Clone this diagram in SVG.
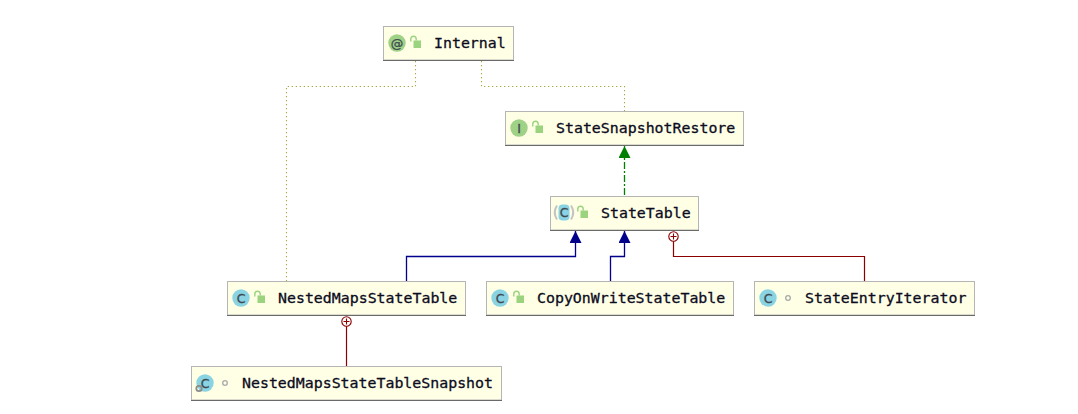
<svg xmlns="http://www.w3.org/2000/svg" width="1078" height="414" viewBox="0 0 1078 414">
<style>
.box{fill:#ffffe6;stroke:#b5b5b5;stroke-width:1}
.base{stroke:#6a6a6a;stroke-width:1.2;fill:none}
.t{font-family:"DejaVu Sans Mono",monospace;font-size:14.9px;fill:#0c0c1e;stroke:#0c0c1e;stroke-width:.3}
.ic{font-family:"DejaVu Sans",sans-serif;font-size:12.500px;text-anchor:middle;fill:#3e4a50;stroke:#3e4a50;stroke-width:.3}
.cc{fill:#8ad3e3}.ci{fill:#9fd186}
.lk{fill:#9bd37f}.lks{fill:none;stroke:#9bd37f;stroke-width:1.400}
.dot{fill:none;stroke:#a8a83c;stroke-width:1.100;stroke-dasharray:1.300 2.700}
.blue{fill:none;stroke:#00008b;stroke-width:1.300}
.red{fill:none;stroke:#8b0000;stroke-width:1.200}
.green{fill:none;stroke:#008000;stroke-width:1.300;stroke-dasharray:7 2 2 2}
.pv{fill:none;stroke:#c4c4c4;stroke-width:2}
</style>
<defs>
<marker id="ab" markerUnits="userSpaceOnUse" markerWidth="12" markerHeight="12" refX="12" refY="6" orient="auto"><path d="M0 0L12 6L0 12z" fill="#00008b"/></marker>
<marker id="ag" markerUnits="userSpaceOnUse" markerWidth="12" markerHeight="12" refX="12" refY="6" orient="auto"><path d="M0 0L12 6L0 12z" fill="#008000"/></marker>
<g id="lock"><rect x="0.500" y="2.500" width="7.500" height="7.500" class="lk"/><path d="M-2.200 3.500V1Q-2.200-1.700 0.500-1.700T3.200 1V2.500" class="lks"/></g>
<g id="plus"><circle r="4.700" fill="#fff" stroke="#8b0000" stroke-width="1.100"/><path d="M-3 0H3M0-3V3" stroke="#8b0000" stroke-width="1.100"/></g>
</defs>
<g id="connectors">
<path class="dot" d="M415.500 61V86.500H286.500V281"/>
<path class="dot" d="M481.500 61V86.500H624.500V111"/>
<path class="green" d="M624.500 195V146" marker-end="url(#ag)"/>
<path class="blue" d="M406.500 281V256.500H575.500V231" marker-end="url(#ab)"/>
<path class="blue" d="M610.500 281V256.500H624.500V231" marker-end="url(#ab)"/>
<path class="red" d="M864.500 281V256.500H673.500V241"/>
<use href="#plus" x="673.500" y="236.500"/>
<path class="red" d="M346.500 366V326"/>
<use href="#plus" x="346.500" y="321.500"/>
</g>
<g id="internal"><rect class="box" x="383.500" y="26.500" width="130" height="33.500"/><path class="base" d="M383 60.500H514"/><circle class="ci" cx="397" cy="43" r="8.700"/><text class="ic" x="397" y="47.500">@</text><use href="#lock" x="413" y="38"/><text class="t" x="434" y="48">Internal</text></g>
<g id="stateSnapshotRestore"><rect class="box" x="505.500" y="111.500" width="238" height="33.500"/><path class="base" d="M505 145.500H744"/><circle class="ci" cx="519" cy="128" r="8.700"/><text class="ic" x="519" y="132.500">I</text><use href="#lock" x="535" y="123"/><text class="t" x="556" y="133">StateSnapshotRestore</text></g>
<g id="stateTable"><rect class="box" x="550.500" y="196.500" width="148" height="33.500"/><path class="base" d="M550 230.500H699"/><rect class="cc" x="558.500" y="204.500" width="11" height="16" rx="4"/><path class="pv" d="M557 205.500Q552.500 212.500 557 219.500M571 205.500Q575.500 212.500 571 219.500"/><text class="ic" x="564" y="217">C</text><use href="#lock" x="580" y="208"/><text class="t" x="601" y="218">StateTable</text></g>
<g id="nestedMapsStateTable"><rect class="box" x="227.500" y="281.500" width="238" height="33.500"/><path class="base" d="M227 315.500H466"/><circle class="cc" cx="241" cy="298" r="8.700"/><text class="ic" x="241" y="302.500">C</text><use href="#lock" x="257" y="293"/><text class="t" x="278" y="303">NestedMapsStateTable</text></g>
<g id="copyOnWriteStateTable"><rect class="box" x="486.500" y="281.500" width="247" height="33.500"/><path class="base" d="M486 315.500H734"/><circle class="cc" cx="500" cy="298" r="8.700"/><text class="ic" x="500" y="302.500">C</text><use href="#lock" x="516" y="293"/><text class="t" x="537" y="303">CopyOnWriteStateTable</text></g>
<g id="stateEntryIterator"><rect class="box" x="754.500" y="281.500" width="220" height="33.500"/><path class="base" d="M754 315.500H975"/><circle class="cc" cx="768" cy="298" r="8.700"/><text class="ic" x="768" y="302.500">C</text><circle cx="788" cy="298" r="2.300" fill="none" stroke="#a8a8a8" stroke-width="1.300"/><text class="t" x="805" y="303">StateEntryIterator</text></g>
<g id="nestedMapsStateTableSnapshot"><rect class="box" x="191.500" y="366.500" width="310" height="33.500"/><path class="base" d="M191 400.500H502"/><circle class="cc" cx="205" cy="383" r="8.700"/><text class="ic" x="205" y="387.500">C</text><circle cx="199" cy="388.500" r="2.700" fill="none" stroke="#8c8c8c" stroke-width="1.800"/><circle cx="225" cy="383" r="2.300" fill="none" stroke="#a8a8a8" stroke-width="1.300"/><text class="t" x="242" y="388">NestedMapsStateTableSnapshot</text></g>
</svg>
